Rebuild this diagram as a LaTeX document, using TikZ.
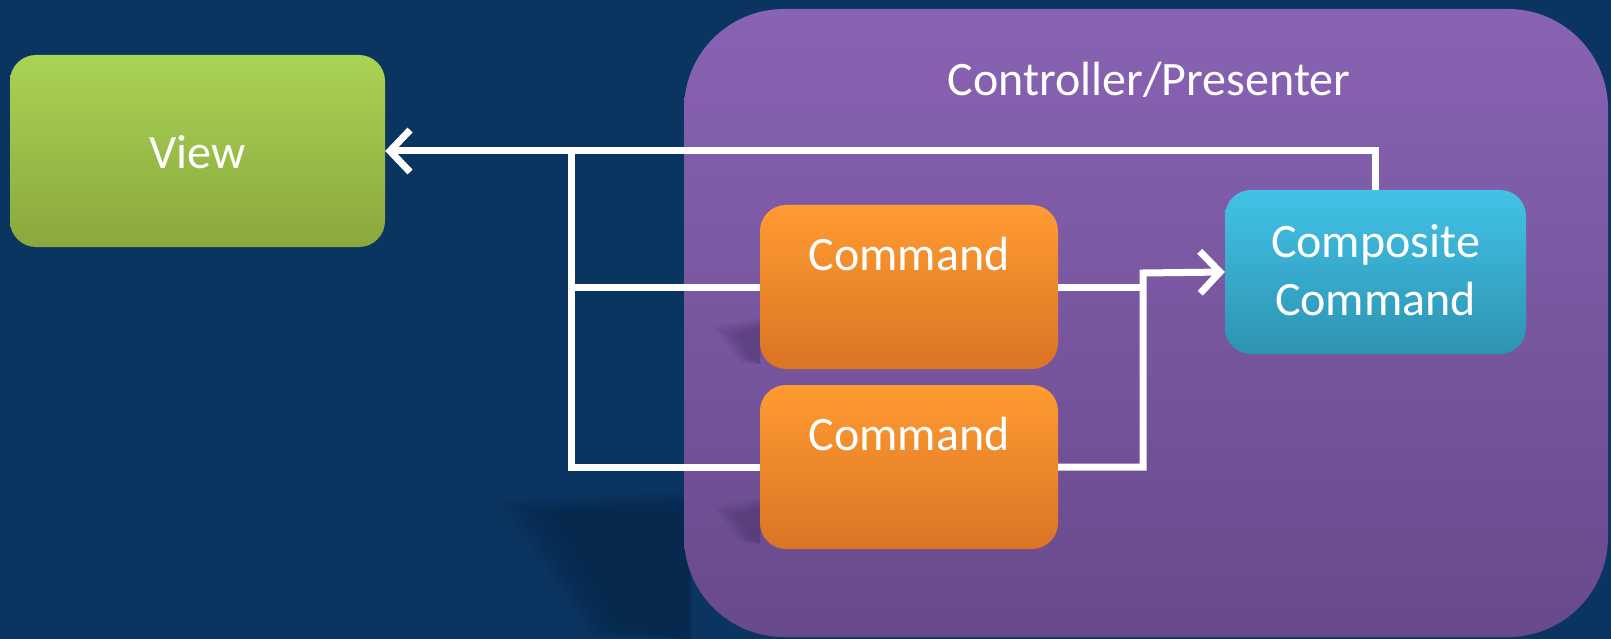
\documentclass[tikz,border=0pt]{standalone}
\usepackage{fontspec}
\setmainfont{Carlito}
\usetikzlibrary{arrows.meta}
\definecolor{bg}{HTML}{0B3561}
\definecolor{bgshadow}{HTML}{061F3B}
\definecolor{greentop}{HTML}{AAD354}
\definecolor{greenbot}{HTML}{8AA83E}
\definecolor{purptop}{HTML}{8863B3}
\definecolor{purpbot}{HTML}{684A8B}
\definecolor{orangetop}{HTML}{FF9B31}
\definecolor{orangebot}{HTML}{DB7425}
\definecolor{cyantop}{HTML}{42C2E8}
\definecolor{cyanbot}{HTML}{2D93B0}
\definecolor{purpshadow}{HTML}{3E2A5C}
\tikzset{
  box/.style={inner sep=0pt, rounded corners=26pt},
  viewbox/.style={box, top color=greentop, bottom color=greenbot,
    minimum width=375pt, minimum height=192pt},
  ctrlbox/.style={inner sep=0pt, rounded corners=100pt, top color=purptop, bottom color=purpbot,
    minimum width=924pt, minimum height=628pt},
  cmdbox/.style={box, top color=orangetop, bottom color=orangebot,
    minimum width=298pt, minimum height=164pt},
  compbox/.style={box, top color=cyantop, bottom color=cyanbot,
    minimum width=301pt, minimum height=164pt},
  txt/.style={text=white, font=\fontsize{48}{58}\selectfont, align=center, inner sep=0pt},
  wire/.style={draw=white, line width=7pt},
  arrowwire/.style={wire, -{Straight Barb[length=20pt,width=42pt]}}
}
\begin{document}
\begin{tikzpicture}[x=1pt,y=-1pt]
\fill[bg] (0,0) rectangle (1611,639);
\useasboundingbox (0,0) rectangle (1611,639);
% soft shadow of the controller area (layered for softness)
\foreach \i in {0,...,7} {
  \fill[bgshadow, opacity=0.07]
    (690,{490+3*\i}) -- ({492+9*\i},{500+2*\i}) -- ({590+4*\i},{639-2*\i}) -- (690,639) -- cycle;
}

% controller / presenter
\node[ctrlbox] (ctrl) at (1146,323) {};
\node[txt] (ctrllabel) at (1149,80) {Controller/Presenter};

% view
\node[viewbox] (view) at (197.5,151) {};
\node[txt] (viewlabel) at (197.5,152) {View};

% soft shadows of the command boxes
\foreach \i in {0,...,5} {
  \fill[purpshadow, opacity=0.08]
    (760,{318+2*\i}) -- ({712+5*\i},{326+2*\i}) -- ({740+2*\i},{362-\i}) -- (760,364) -- cycle;
  \fill[purpshadow, opacity=0.08]
    (760,{498+2*\i}) -- ({712+5*\i},{506+2*\i}) -- ({740+2*\i},{542-\i}) -- (760,544) -- cycle;
}

% commands
\node[cmdbox] (cmd1) at (909,287) {};
\node[txt] (cmd1label) at (909,254) {Command};
\node[cmdbox] (cmd2) at (909,467) {};
\node[txt] (cmd2label) at (909,434) {Command};

% composite command
\node[compbox] (comp) at (1375.5,272) {};
\node[txt] (complabel) at (1375.5,270) {Composite\\Command};

% junction coordinates
\coordinate (lx) at (571,152);
\coordinate (rx) at (1143,273);

% connectors
\draw[arrowwire] (comp.north) |- (view.east);
\draw[wire] (lx) |- (cmd2.west);
\draw[wire] (cmd1.west -| lx) -- (cmd1.west);
\draw[wire] (cmd1.east) -- (cmd1.east -| rx);
\draw[arrowwire] (cmd2.east) -| (rx) -- (comp.west);
\end{tikzpicture}
\end{document}
